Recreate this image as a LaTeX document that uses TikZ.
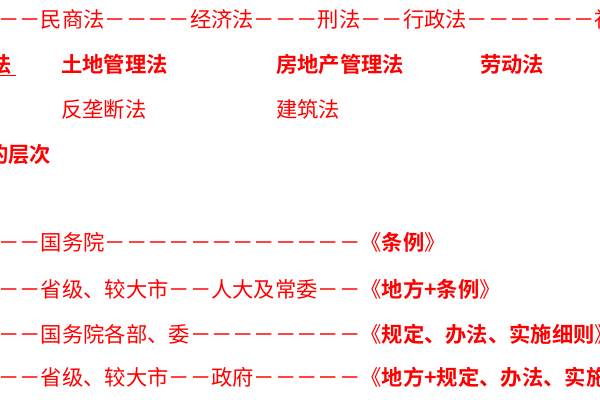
\documentclass[tikz,border=0pt]{standalone}
\usepackage{fontspec}
\newfontfamily\cjk{Noto Sans CJK SC}[BoldFont={Noto Sans CJK SC Bold}]
\usetikzlibrary{positioning}

\begin{document}
\begin{tikzpicture}[x=0.025cm, y=-0.025cm,
  txt/.style={inner sep=0pt, anchor=base west, text=red,
    font=\cjk\fontsize{15.15}{18}\selectfont},
  btxt/.style={txt, font=\cjk\bfseries\fontsize{15.15}{18}\selectfont}]
  \useasboundingbox (0,0) rectangle (600,400);
  \clip (0,0) rectangle (600,400);
  % Branches of law
  \node[txt] (branches) at (-2,28)
    {－－民商法－－－－经济法－－－刑法－－行政法－－－－－－社会法};
  % Economic laws
  \node[btxt] (fa) at (-10,73) {法};
  \draw[red, line width=1pt] (0,75.5) -- (16,75.5);
  \node[btxt] (land) at (61,73) {土地管理法};
  \node[btxt] (estate) at (276,73) {房地产管理法};
  \node[btxt] (labour) at (480,73) {劳动法};
  \node[txt] (antimono) at (61,118) {反垄断法};
  \node[txt] (build) at (276,118) {建筑法};
  % Levels
  \node[btxt] (levels) at (-13,163) {的层次};
  \node[txt] (council) at (-2,251)
    {－－国务院－－－－－－－－－－－－《\textbf{条例}》};
  \node[txt] (provcong) at (-2,298)
    {－－省级、较大市－－人大及常委－－《\textbf{地方+条例}》};
  \node[txt] (ministry) at (-2,343)
    {－－国务院各部、委－－－－－－－－《\textbf{规定、办法、实施细则}》};
  \node[txt] (provgov) at (-2,386)
    {－－省级、较大市－－政府－－－－－《\textbf{地方+规定、办法、实施细则}》};
\end{tikzpicture}
\end{document}
